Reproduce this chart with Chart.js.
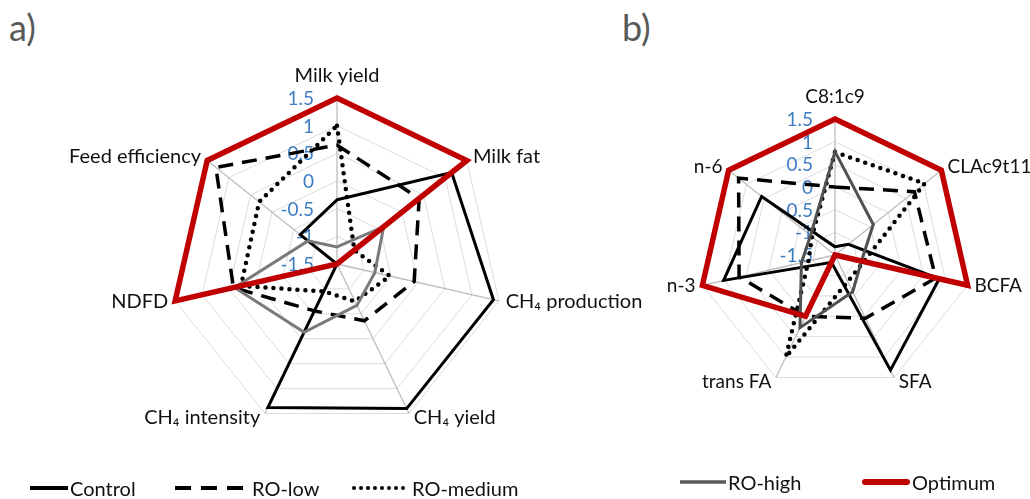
<!DOCTYPE html>
<html>
<head>
<meta charset="utf-8">
<script src="https://cdn.jsdelivr.net/npm/chart.js@4.4.1/dist/chart.umd.min.js"></script>
<style>
  html, body { margin:0; padding:0; background:#fff; width:1030px; height:499px; overflow:hidden; font-family: Lato, "Open Sans", sans-serif; }
  canvas { position:absolute; left:0; top:0; }
  .panel { position:absolute; font-size:36px; color:#595959; line-height:1; }
  .leg { position:absolute; display:flex; align-items:center; height:24px; font-size:20px; color:#111; white-space:nowrap; }
  .leg svg { display:block; }
</style>
</head>
<body>
<div class="panel" style="left:9px;top:9px;">a)</div>
<div class="panel" style="left:622px;top:9px;">b)</div>
<canvas id="chartA" width="1030" height="499"></canvas>
<canvas id="chartB" width="1030" height="499"></canvas>
<div id="legend"></div>
<script>
// ---------------- data ----------------
const labelsA = ['Milk yield', 'Milk fat', 'CH₄ production', 'CH₄ yield', 'CH₄ intensity', 'NDFD', 'Feed efficiency'];
const labelsB = ['C8:1c9', 'CLAc9t11', 'BCFA', 'SFA', 'trans FA', 'n-3', 'n-6'];
const tickValues = [-1.5, -1, -0.5, 0, 0.5, 1, 1.5];
const seriesNames = ['Control', 'RO-low', 'RO-medium', 'RO-high', 'Optimum'];

const controlA  = [-0.34, 1.15, 1.40, 1.40, 1.38, -1.50, -0.65];
const roLowA    = [0.65, 0.40, -0.07, -0.36, -0.56, 0.42, 1.30];
const roMediumA = [1.00, -1.10, -0.52, -0.75, -0.95, 0.28, 0.30];
const roHighA   = [-1.19, -0.42, -0.80, -0.67, -0.13, 0.40, -0.83];
const optimumA  = [1.50, 1.50, -1.50, -1.50, -1.50, 1.50, 1.50];

const controlB  = [-1.32, -1.12, 0.86, 1.32, -1.32, 1.02, 0.57];
const roLowB    = [0.00, 0.74, 0.78, 0.05, 0.00, 0.67, 1.22];
const roMediumB = [0.77, 1.03, -0.85, -0.85, 1.00, -0.90, -0.85];
const roHighB   = [0.78, -0.42, -0.90, -0.60, 0.28, -0.74, -0.81];
const optimumB  = [1.50, 1.50, 1.50, -1.50, 0.00, 1.50, 1.50];

// ---------------- styles ----------------
const styles = [
  { color:'#000000', width:3,   dash:[],      cap:'butt',  order:5 },
  { color:'#000000', width:3.5, dash:[15, 9], cap:'butt',  order:4 },
  { color:'#000000', width:4.5, dash:[0, 8],  cap:'round', order:3 },
  { color:'#6f6f6f', width:3,   dash:[],      cap:'butt',  order:2 },
  { color:'#c00000', width:5.5, dash:[],      cap:'butt',  order:1 }
];

function makeDatasets(seriesList, highColor) {
  return seriesList.map((vals, i) => ({
    label: seriesNames[i],
    data: vals,
    borderColor: i === 3 ? highColor : styles[i].color,
    borderWidth: styles[i].width,
    borderDash: styles[i].dash,
    borderCapStyle: styles[i].cap,
    borderJoinStyle: 'miter',
    backgroundColor: 'transparent',
    fill: false,
    pointRadius: 0,
    pointHoverRadius: 0,
    tension: 0,
    order: styles[i].order
  }));
}

const labelPlugin = {
  id: 'radarLabels',
  beforeDatasetsDraw(chart, args, opts) {
    const s = chart.scales.r, ctx = chart.ctx;
    ctx.save();
    ctx.font = '19px Lato, "Open Sans", sans-serif';
    ctx.fillStyle = '#3f7dc3';
    ctx.textAlign = 'right';
    ctx.textBaseline = 'middle';
    tickValues.forEach(v => {
      const d = s.getDistanceFromCenterForValue(v);
      ctx.fillText(String(v), s.xCenter - opts.tickGap, s.yCenter - d + 1);
    });
    ctx.restore();
  },
  afterDatasetsDraw(chart, args, opts) {
    const s = chart.scales.r, ctx = chart.ctx;
    const labels = chart.data.labels;
    ctx.save();
    ctx.font = opts.labelSize + 'px Lato, "Open Sans", sans-serif';
    ctx.fillStyle = '#111111';
    labels.forEach((lab, i) => {
      const p = s.getPointPosition(i, s.drawingArea);
      const dx = Math.cos(p.angle), dy = Math.sin(p.angle);
      let x, y;
      if (Math.abs(dx) < 0.1) {
        ctx.textAlign = 'center';
        ctx.textBaseline = 'middle';
        x = p.x; y = p.y + (dy < 0 ? -22 : 22);
      } else {
        ctx.textAlign = dx > 0 ? 'left' : 'right';
        ctx.textBaseline = 'middle';
        x = p.x + (dx > 0 ? 1 : -1) * (3 + 4 * Math.abs(dx));
        y = p.y + 5 * dy - 0.5;
      }
      ctx.fillText(lab, x, y);
    });
    ctx.restore();
  }
};

function radarOptions(pad, tickGap, labelSize) {
  return {
    responsive: false,
    animation: false,
    layout: { padding: pad },
    plugins: { legend: { display:false }, tooltip: { enabled:false }, radarLabels: { tickGap, labelSize } },
    scales: {
      r: {
        min: -1.5, max: 1.5,
        ticks: { display:false, stepSize:0.5 },
        grid: { color:'#dcdcdc', lineWidth:1 },
        angleLines: { color:'#bdbdbd', lineWidth:1.3 },
        pointLabels: { display:false }
      }
    }
  };
}

new Chart(document.getElementById('chartA'), {
  type: 'radar',
  data: { labels: labelsA, datasets: makeDatasets([controlA, roLowA, roMediumA, roHighA, optimumA], '#7a7a7a') },
  options: radarOptions({ left:171, right:527, top:98, bottom:69 }, 23, 20),
  plugins: [labelPlugin]
});

new Chart(document.getElementById('chartB'), {
  type: 'radar',
  data: { labels: labelsB, datasets: makeDatasets([controlB, roLowB, roMediumB, roHighB, optimumB], '#505050') },
  options: radarOptions({ left:699, right:59, top:119, bottom:108 }, 22, 19),
  plugins: [labelPlugin]
});

// ---------------- HTML legend ----------------
const legendPos = [
  { x:30,  y:476, sw:38 },
  { x:175, y:476, sw:75 },
  { x:352, y:476, sw:58 },
  { x:680, y:470, sw:46 },
  { x:862, y:470, sw:48 }
];
const legendColors = ['#000000', '#000000', '#000000', '#595959', '#c00000'];
const legend = document.getElementById('legend');
seriesNames.forEach((name, i) => {
  const lp = legendPos[i];
  const w = i === 4 ? 6 : (i === 3 ? 3.5 : 4);
  const dash = i === 1 ? 'stroke-dasharray="16 10"' : (i === 2 ? 'stroke-dasharray="0 7" stroke-linecap="round"' : (i === 4 ? 'stroke-linecap="round"' : ''));
  const x1 = i === 4 ? 3 : (i === 2 ? 2 : 0);
  const x2 = i === 4 ? lp.sw - 3 : lp.sw;
  const div = document.createElement('div');
  div.className = 'leg';
  div.style.left = lp.x + 'px';
  div.style.top = lp.y + 'px';
  div.innerHTML = `<svg width="${lp.sw}" height="12"><line x1="${x1}" y1="6" x2="${x2}" y2="6" stroke="${legendColors[i]}" stroke-width="${w}" ${dash}/></svg><span style="margin-left:2px">${name}</span>`;
  legend.appendChild(div);
});
</script>
</body>
</html>
